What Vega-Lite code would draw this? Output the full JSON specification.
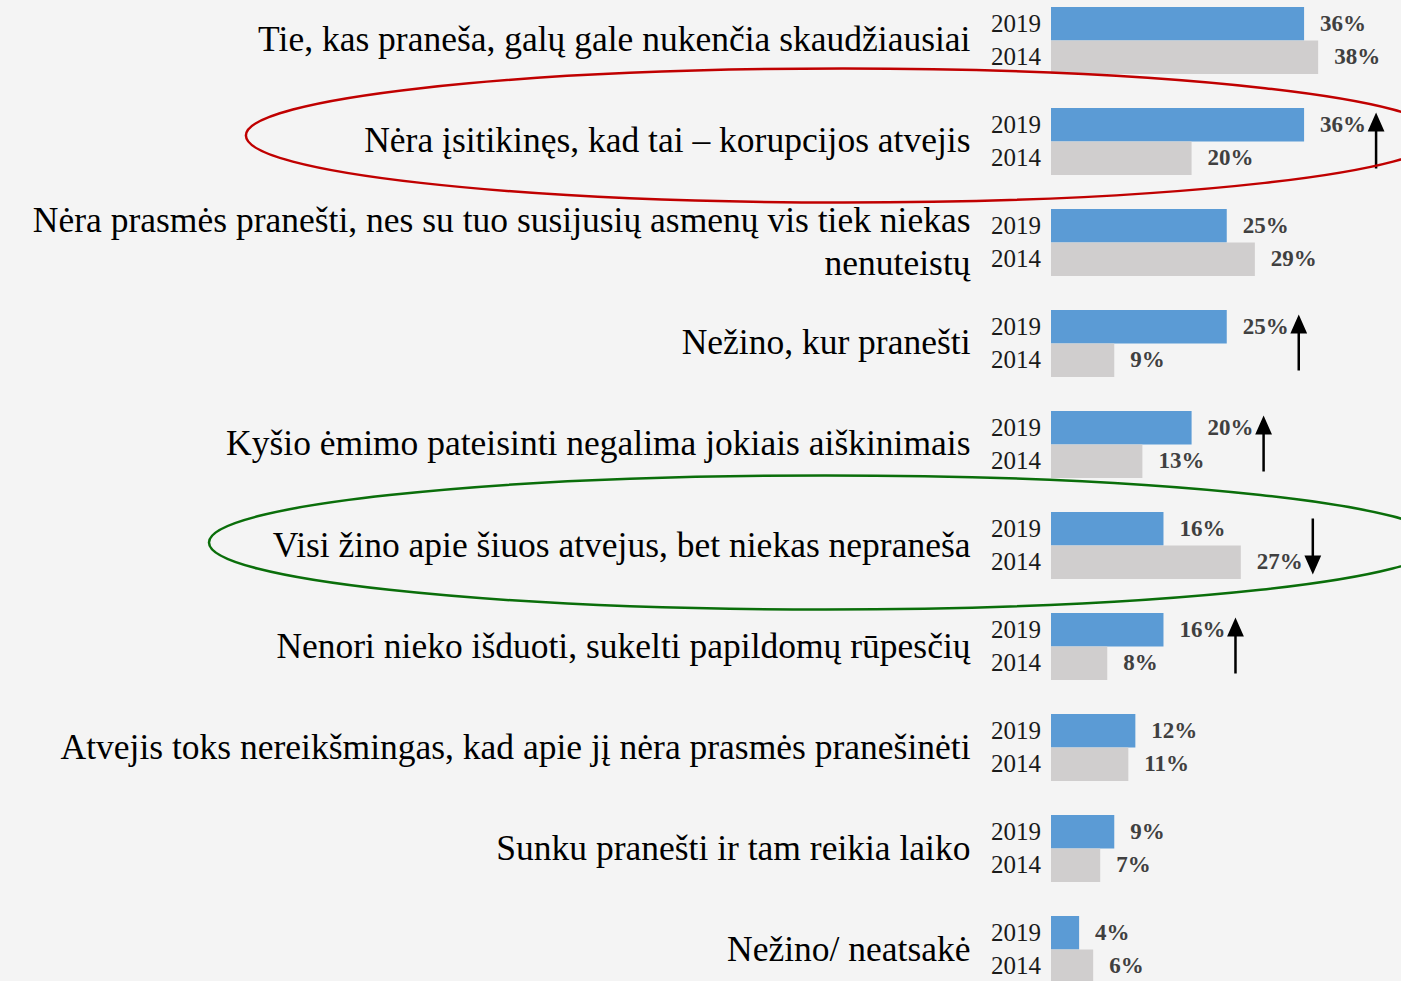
{
  "$schema": "https://vega.github.io/schema/vega-lite/v6.json",
  "autosize": {"type": "none"},
  "padding": {"left": 1051, "top": 0, "right": 0, "bottom": 0},
  "width": 351.5,
  "height": 990,
  "background": "#f4f4f4",
  "config": {"view": {"stroke": null}},
  "data": {"values": [
    {"cat": "Tie, kas praneša, galų gale nukenčia skaudžiausiai", "year": "2019", "value": 36, "trend": null},
    {"cat": "Tie, kas praneša, galų gale nukenčia skaudžiausiai", "year": "2014", "value": 38, "trend": null},
    {"cat": "Nėra įsitikinęs, kad tai – korupcijos atvejis", "year": "2019", "value": 36, "trend": "up"},
    {"cat": "Nėra įsitikinęs, kad tai – korupcijos atvejis", "year": "2014", "value": 20, "trend": "up"},
    {"cat": "Nėra prasmės pranešti, nes su tuo susijusių asmenų vis tiek niekas|nenuteistų", "year": "2019", "value": 25, "trend": null},
    {"cat": "Nėra prasmės pranešti, nes su tuo susijusių asmenų vis tiek niekas|nenuteistų", "year": "2014", "value": 29, "trend": null},
    {"cat": "Nežino, kur pranešti", "year": "2019", "value": 25, "trend": "up"},
    {"cat": "Nežino, kur pranešti", "year": "2014", "value": 9, "trend": "up"},
    {"cat": "Kyšio ėmimo pateisinti negalima jokiais aiškinimais", "year": "2019", "value": 20, "trend": "up"},
    {"cat": "Kyšio ėmimo pateisinti negalima jokiais aiškinimais", "year": "2014", "value": 13, "trend": "up"},
    {"cat": "Visi žino apie šiuos atvejus, bet niekas nepraneša", "year": "2019", "value": 16, "trend": "down"},
    {"cat": "Visi žino apie šiuos atvejus, bet niekas nepraneša", "year": "2014", "value": 27, "trend": "down"},
    {"cat": "Nenori nieko išduoti, sukelti papildomų rūpesčių", "year": "2019", "value": 16, "trend": "up"},
    {"cat": "Nenori nieko išduoti, sukelti papildomų rūpesčių", "year": "2014", "value": 8, "trend": "up"},
    {"cat": "Atvejis toks nereikšmingas, kad apie jį nėra prasmės pranešinėti", "year": "2019", "value": 12, "trend": null},
    {"cat": "Atvejis toks nereikšmingas, kad apie jį nėra prasmės pranešinėti", "year": "2014", "value": 11, "trend": null},
    {"cat": "Sunku pranešti ir tam reikia laiko", "year": "2019", "value": 9, "trend": null},
    {"cat": "Sunku pranešti ir tam reikia laiko", "year": "2014", "value": 7, "trend": null},
    {"cat": "Nežino/ neatsakė", "year": "2019", "value": 4, "trend": null},
    {"cat": "Nežino/ neatsakė", "year": "2014", "value": 6, "trend": null}
  ]},
  "encoding": {
    "y": {
      "field": "cat", "type": "nominal", "sort": null,
      "scale": {"paddingInner": 0.337, "paddingOuter": 0.0693},
      "axis": {
        "title": null, "domain": false, "ticks": false, "grid": false,
        "labelPadding": 81, "labelFont": "Liberation Serif", "labelFontSize": 35.5,
        "labelColor": "#000000", "labelLimit": 1100, "labelLineHeight": 43,
        "labelOffset": {"condition": {"test": "indexof(datum.value, '|') >= 0", "value": -21}, "value": 0},
        "labelExpr": "split(datum.value, '|')"
      }
    }
  },
  "layer": [
    {
      "mark": {"type": "bar"},
      "encoding": {
        "x": {"field": "value", "type": "quantitative", "scale": {"domain": [0, 50], "nice": false, "zero": true}, "axis": null},
        "yOffset": {"field": "year", "type": "nominal", "scale": {"domain": ["2019", "2014"], "paddingInner": 0, "paddingOuter": 0}},
        "color": {"field": "year", "type": "nominal", "scale": {"domain": ["2019", "2014"], "range": ["#5b9bd5", "#d0cece"]}, "legend": null}
      }
    },
    {
      "transform": [{"calculate": "datum.value + '%'", "as": "lbl"}],
      "mark": {"type": "text", "align": "left", "baseline": "middle", "dx": 16, "font": "Liberation Serif", "fontSize": 23, "fontWeight": "bold", "color": "#404040"},
      "encoding": {
        "x": {"field": "value", "type": "quantitative"},
        "yOffset": {"field": "year", "type": "nominal"},
        "text": {"field": "lbl"}
      }
    },
    {
      "mark": {"type": "text", "align": "right", "baseline": "middle", "dx": -10, "font": "Liberation Serif", "fontSize": 25, "color": "#1a1a1a"},
      "encoding": {
        "x": {"datum": 0},
        "yOffset": {"field": "year", "type": "nominal"},
        "text": {"field": "year"}
      }
    },
    {
      "transform": [{"filter": "isValid(datum.trend)"}],
      "mark": {"type": "point", "filled": true, "color": "#000000", "stroke": "#000000", "strokeWidth": 2.5, "opacity": 1, "size": 2916, "xOffset": 72},
      "encoding": {
        "x": {"aggregate": "max", "field": "value", "type": "quantitative"},
        "shape": {
          "field": "trend", "type": "nominal", "legend": null,
          "scale": {"domain": ["up", "down"], "range": [
            "M 0 1 L 0 -0.45 M -0.24 -0.42 L 0.24 -0.42 L 0 -0.96 Z",
            "M 0 -1 L 0 0.45 M -0.24 0.42 L 0.24 0.42 L 0 0.96 Z"
          ]}
        }
      }
    },
    {
      "transform": [{"filter": "datum.cat == 'Nėra įsitikinęs, kad tai – korupcijos atvejis' && datum.year == '2019'"}],
      "mark": {"type": "point", "filled": false, "stroke": "#c00000", "strokeWidth": 2.5, "opacity": 1, "size": 1425636,
        "shape": "M -1 -0.01 A 1 0.1122 0 1 1 1 -0.01 A 1 0.1122 0 1 1 -1 -0.01 Z"},
      "encoding": {"x": {"datum": -29.6}}
    },
    {
      "transform": [{"filter": "datum.cat == 'Visi žino apie šiuos atvejus, bet niekas nepraneša' && datum.year == '2019'"}],
      "mark": {"type": "point", "filled": false, "stroke": "#0a6e0a", "strokeWidth": 2.5, "opacity": 1, "size": 1517824,
        "shape": "M -1 -0.005 A 1 0.1088 0 1 1 1 -0.005 A 1 0.1088 0 1 1 -1 -0.005 Z"},
      "encoding": {"x": {"datum": -32.15}}
    }
  ]
}
